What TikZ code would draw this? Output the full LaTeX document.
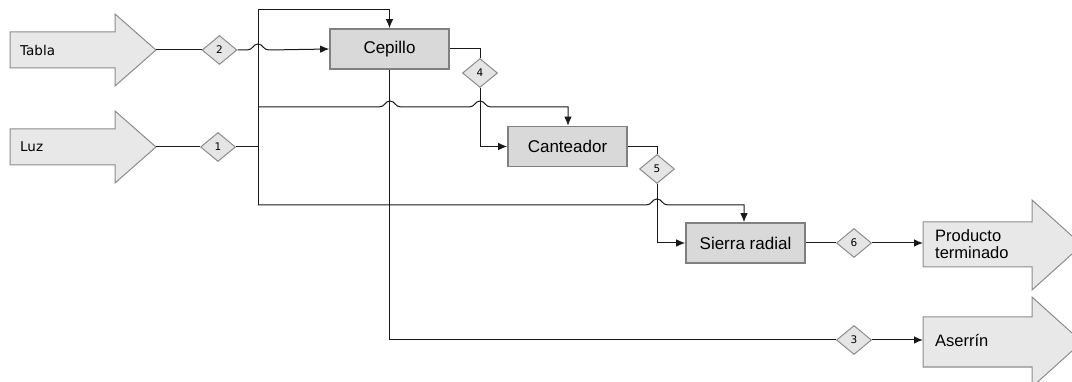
\documentclass[tikz,border=0pt]{standalone}
\usepackage{fontspec}
\setmainfont{Liberation Sans}
\newfontfamily\dvs{DejaVu Sans}
\usetikzlibrary{shapes.geometric,arrows.meta}
\newcommand\hopover[2]{-- (#1-11,#2) .. controls (#1-5,#2) and (#1-5,#2-6) .. (#1,#2-6) .. controls (#1+5,#2-6) and (#1+5,#2) .. (#1+11,#2)}
\begin{document}
\begin{tikzpicture}[x=1pt,y=-1pt,
  ln/.style={draw=black!90, line width=1pt},
  arr/.style={ln, -{Latex[length=9pt,width=7.5pt]}},
  procbox/.style={draw=black!50, line width=1.6pt, fill=black!15, minimum width=119pt, minimum height=40pt, inner sep=0pt, font=\fontsize{17}{19}\selectfont},
  dia/.style={diamond, draw=black!45, line width=1pt, fill=black!10, minimum width=35pt, minimum height=29pt, inner sep=0pt, font=\dvs\fontsize{10.5}{12}\selectfont},
  barrow/.style={draw=black!45, line width=1pt, fill=black!9},
  blabel/.style={anchor=west, inner sep=0pt, font=\dvs\fontsize{13.5}{15}\selectfont},
  plabel/.style={anchor=west, inner sep=0pt, align=left, font=\fontsize{16.5}{16.5}\selectfont},
  ]
\useasboundingbox (0,0) rectangle (1072,382);

% block arrows
\draw[barrow] (10,32) -- (115,32) -- (115,14) -- (156,50) -- (115,86) -- (115,68) -- (10,68) -- cycle;
\coordinate (tablaTip) at (156,50);
\node[blabel] (tabla) at (20,50) {Tabla};

\draw[barrow] (10,129) -- (115,129) -- (115,111) -- (156,147) -- (115,183) -- (115,165) -- (10,165) -- cycle;
\coordinate (luzTip) at (156,147);
\node[blabel] (luz) at (20,147) {Luz};

\draw[barrow] (923,222) -- (1032,222) -- (1032,200) -- (1082,245) -- (1032,290) -- (1032,267) -- (923,267) -- cycle;
\coordinate (prodL) at (923,243);
\node[plabel] (prod) at (935,244) {Producto\\terminado};

\draw[barrow] (923,317) -- (1032,317) -- (1032,297) -- (1082,342) -- (1032,387) -- (1032,367) -- (923,367) -- cycle;
\coordinate (aserL) at (923,340);
\node[plabel] (aser) at (935,341) {Aserrín};

% process boxes
\node[procbox] (cep) at (389.5,49) {Cepillo};
\node[procbox] (can) at (567.5,146.5) {Canteador};
\node[procbox] (sie) at (745.5,243) {Sierra radial};

% diamonds
\node[dia] (d2) at (219.5,50) {2};
\node[dia] (d1) at (218,147) {1};
\node[dia] (d4) at (480,73) {4};
\node[dia] (d5) at (657,169) {5};
\node[dia] (d6) at (854,243) {6};
\node[dia] (d3) at (854,340) {3};

% main collector
\coordinate (vt) at (258,10);
\coordinate (vb) at (258,205);
\coordinate (vm) at (258,107);
\draw[ln] (vt) -- (vb);

% connectors
\draw[ln] (tablaTip) -- (d2.west);
\draw[arr] (d2.east) \hopover{258}{50} -- (cep.west);
\draw[ln] (luzTip) -- (d1.west);
\draw[ln] (d1.east) -- (d1.east -| vt);
\draw[arr] (vt) -| (cep.north);
\draw[arr] (vm) \hopover{390}{107} \hopover{480}{107} -- (568,107) -- (568,107 |- can.north);
\draw[arr] (vb) \hopover{657}{205} -- (744,205) -- (744,205 |- sie.north);
\draw[ln] (cep.east) -| (d4.north);
\draw[arr] (d4.south) |- (can.west);
\draw[ln] (can.east) -| (d5.north);
\draw[arr] (d5.south) |- (sie.west);
\draw[ln] (sie.east) -- (d6.west);
\draw[arr] (d6.east) -- (prodL);
\draw[ln] (cep.south) |- (d3.west);
\draw[arr] (d3.east) -- (aserL);
\end{tikzpicture}
\end{document}
